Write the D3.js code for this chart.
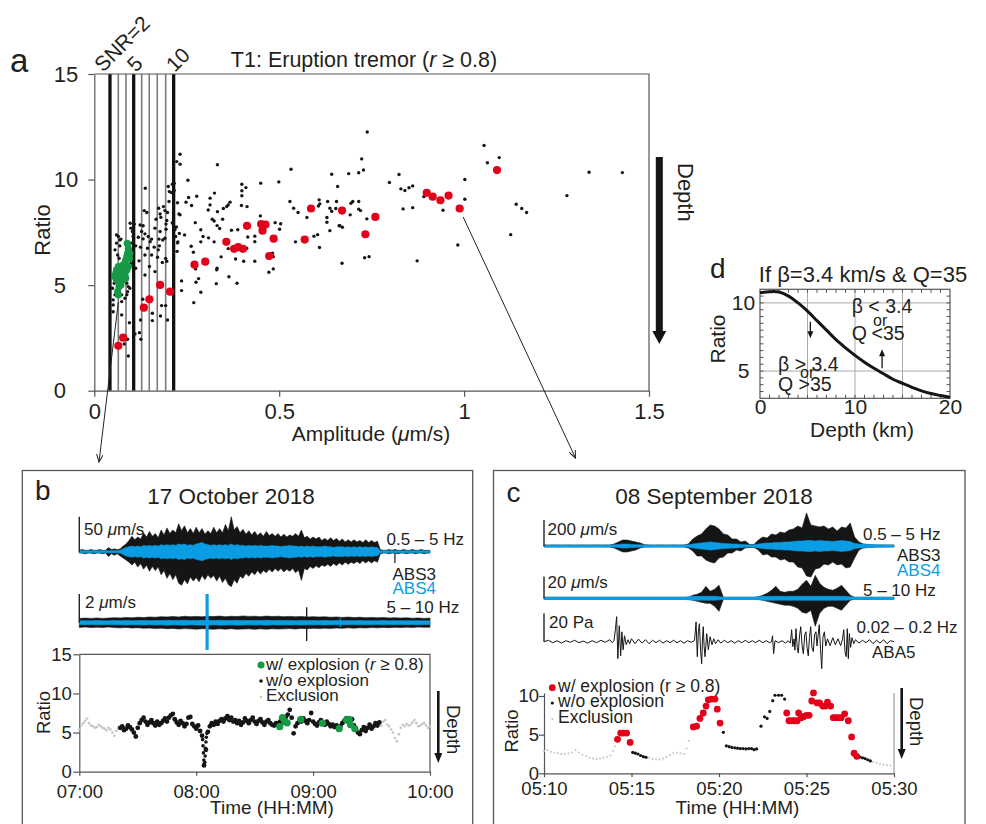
<!DOCTYPE html>
<html>
<head>
<meta charset="utf-8">
<script src="https://cdn.jsdelivr.net/npm/d3@7"></script>
<style>
  body { margin: 0; background: #fff; }
  svg { display: block; }
</style>
</head>
<body>
<svg id="fig" width="986" height="824"></svg>
<script>
// ---------------- panel a : amplitude ratio scatter ----------------
const aTicksX = [0, 0.5, 1, 1.5];
const aTicksY = [0, 5, 10, 15];
const snrLevels = [2, 3, 4, 5, 6, 7, 8, 9, 10];
const snrAmp = [0.0424, 0.0649, 0.0857, 0.1065, 0.1281, 0.1486, 0.1703, 0.1930, 0.2146];
const snrLabels = ["SNR=2", "5", "10"];
const snrLabelLevel = [2, 5, 10];

const aBlack = [
  [0.232,11.2],[0.232,10.73],[0.333,10.7],[0.253,9.97],[0.532,10.49],[0.642,10.25],[0.658,9.67],[0.499,9.89],
  [0.45,9.83],[0.399,9.78],[0.399,9.47],[0.41,9.62],[0.399,9.23],[0.325,9.36],[0.313,9.12],[0.277,9.21],
  [0.255,9.15],[0.248,8.93],[0.263,8.77],[0.313,8.8],[0.367,8.93],[0.362,8.8],[0.358,8.72],[0.398,8.77],
  [0.413,8.72],[0.349,8.63],[0.308,8.56],[0.333,8.48],[0.232,8.33],[0.319,8.12],[0.324,8.04],[0.347,8.12],
  [0.273,7.96],[0.332,7.82],[0.339,7.68],[0.288,7.62],[0.371,7.6],[0.388,7.62],[0.449,8.28],[0.489,7.96],
  [0.504,7.91],[0.501,7.65],[0.244,7.38],[0.294,7.3],[0.309,7.24],[0.324,7.05],[0.288,7.05],[0.415,7.28],
  [0.434,7.32],[0.434,7.06],[0.262,6.84],[0.268,6.56],[0.362,6.73],[0.412,6.75],[0.343,6.34],[0.382,6.24],
  [0.404,6.13],[0.434,6.13],[0.482,6.51],[0.484,6.35],[0.274,5.77],[0.332,5.8],[0.331,5.73],[0.484,5.77],
  [0.472,5.61],[0.364,5.4],[0.282,5.31],[0.275,5.14],[0.236,5.2],[0.236,4.74],[0.33,5.07],[0.386,5.09],
  [0.288,4.66],[0.269,4.17],[0.529,8.96],[0.539,8.64],[0.551,8.44],[0.575,8.2],[0.608,9.04],[0.61,8.85],
  [0.606,8.75],[0.631,8.96],[0.655,8.96],[0.637,8.64],[0.642,8.5],[0.653,8.63],[0.629,8.2],[0.629,7.98],
  [0.637,7.58],[0.662,7.81],[0.594,7.32],[0.604,7.39],[0.544,7.05],[0.609,6.78],
  [0.738,12.25],[0.688,10.28],[0.715,10.32],[0.728,10.45],[0.723,10.98],[0.824,10.24],[0.798,9.86],[0.829,9.56],
  [0.84,9.48],[0.851,9.61],[0.861,9.7],[0.694,8.88],[0.699,8.96],[0.715,8.96],[0.715,8.6],[0.72,8.53],
  [0.692,8.33],[0.737,8.14],[0.664,7.81],[0.671,7.74],[0.835,8.61],[0.861,8.67],[0.891,9.19],[1.002,10.0],
  [1.002,9.07],[0.943,8.55],[0.983,6.9],[0.873,6.15],[0.731,6.3],[0.743,6.35],[0.67,6.04],[1.054,11.61],
  [1.063,10.8],[1.095,11.04],[1.141,8.83],[1.156,8.63],[1.169,8.44],[1.126,7.39],[1.278,9.24],[1.338,10.35],
  [1.428,10.33],
  [0.223,10.85],[0.138,9.59],[0.2,9.67],[0.211,9.78],[0.216,9.83],[0.203,9.43],[0.209,9.38],[0.216,9.48],
  [0.202,8.96],[0.174,8.64],[0.187,8.72],[0.191,8.53],[0.198,8.44],[0.135,8.53],[0.142,8.44],[0.214,8.48],
  [0.214,8.15],[0.178,8.37],[0.18,8.21],[0.196,8.06],[0.194,7.89],[0.167,8.12],[0.211,7.96],[0.218,7.62],
  [0.229,8.37],[0.097,7.93],[0.108,7.89],[0.124,7.85],[0.132,7.81],[0.099,7.7],[0.128,7.54],[0.137,7.43],
  [0.132,7.19],[0.119,7.27],[0.146,7.3],[0.155,7.18],[0.151,7.06],[0.164,7.7],[0.178,7.54],[0.191,7.22],
  [0.194,7.65],[0.175,7.18],[0.185,7.14],[0.176,6.86],[0.112,6.86],[0.125,6.8],[0.144,6.75],[0.162,6.8],
  [0.173,6.67],[0.137,6.43],[0.155,6.43],[0.171,6.32],[0.184,6.07],[0.193,6.26],[0.196,6.13],[0.215,6.59],
  [0.121,6.15],[0.149,5.88],[0.137,5.48],[0.112,5.8],[0.164,5.64],[0.182,4.03],[0.193,4.03],[0.157,3.67],
  [0.157,3.32],[0.179,3.54],[0.198,3.35],[0.131,4.33],[0.125,3.35],[0.122,2.75],[0.126,2.44],[0.11,2.69],
  [0.065,7.3],[0.072,7.18],[0.06,6.99],[0.069,6.86],[0.056,6.67],[0.063,6.43],[0.067,6.27],[0.099,6.99],
  [0.101,6.67],[0.092,6.35],[0.099,6.04],[0.105,5.88],[0.051,5.4],[0.054,5.09],[0.049,4.85],[0.088,5.09],
  [0.092,4.93],[0.096,4.85],[0.09,4.69],[0.056,4.54],[0.065,4.46],[0.074,4.54],[0.088,4.54],[0.083,4.38],
  [0.051,4.3],[0.051,4.06],[0.051,3.74],[0.074,4.22],[0.074,3.59],[0.095,3.22],[0.09,2.44],[0.092,1.64],
  [0.081,2.21],[0.06,7.38],[0.069,7.14],[0.103,7.54],[0.105,7.3],[0.225,8.9],[0.222,7.75],[0.22,7.3],
  [0.224,6.6],[0.226,7.05],[0.213,7.9],[0.23,7.45],[0.225,7.0]
];
const aRed = [
  [0.413,7.81],[0.451,7.89],[0.463,7.87],[0.455,7.58],[0.485,7.2],[0.357,7.05],[0.378,6.72],[0.389,6.8],
  [0.402,6.72],[0.473,6.38],[0.3,6.11],[0.271,5.97],[0.586,8.63],[0.569,7.16],[0.67,8.53],[0.76,8.23],
  [0.733,7.41],[0.899,9.37],[0.915,9.19],[0.936,9.02],[0.958,9.24],[0.988,8.63],[1.089,10.45],[0.178,5.01],
  [0.205,4.69],[0.149,4.33],[0.134,3.93],[0.078,2.51],[0.065,2.13]
];
const aGreen = [
  [0.089,6.98],[0.092,6.75],[0.09,6.51],[0.088,6.35],[0.085,6.19],[0.083,6.04],[0.078,5.96],[0.074,5.88],
  [0.069,5.8],[0.065,5.88],[0.06,5.72],[0.058,5.56],[0.056,5.4],[0.06,5.25],[0.065,5.17],[0.069,5.4],
  [0.074,5.56],[0.078,5.64],[0.083,5.48],[0.088,5.72],[0.092,5.88],[0.067,4.93],[0.063,4.69],[0.065,4.54],
  [0.072,5.01],[0.078,5.25],[0.085,5.33],[0.095,6.27],[0.096,6.51]
];

// ---------------- panel b : 17 October 2018 ----------------
const bTimeTicks = [0, 60, 120, 180];          // minutes after 07:00
const bTimeLabels = ["07:00", "08:00", "09:00", "10:00"];
const bRatioTicks = [0, 5, 10, 15];
// 0.5-5 Hz envelopes (um/s), one value every 1.5 min from 07:00
const b1Up = [2,3,2,2,3,2,2,3,2,2, 6,3,4,3,4, 8,11,16,22,17, 21,18,27,21,29, 22,26,20,31,24,
  34,26,31,27,40, 30,37,27,33,26, 35,27,33,25,30, 26,35,27,33,27, 39,30,50,31,36, 27,32,25,30,24,
  29,23,27,22,29, 23,26,22,26,21, 25,21,24,22,26, 22,31,20,22,18, 21,18,21,16,19, 16,20,16,19,15,
  18,14,17,14,17, 14,16,13,17,13, 16,13,15,3,2, 2,3,2,3,2, 2,3,2,2,3, 2,2,3,2,2, 2];
const b1Down = [2,2,3,2,2,3,2,2,3,2, 7,3,5,3,6, 9,12,15,19,15, 22,17,25,19,28, 21,27,22,33,27,
  38,31,40,33,45, 48,40,46,36,42, 37,43,34,40,33, 38,34,42,35,44, 38,47,50,40,45, 35,38,31,35,29,
  33,27,32,27,30, 25,29,24,28,24, 29,25,28,24,30, 26,41,24,26,21, 24,20,23,19,21, 18,21,17,20,16,
  19,15,18,15,17, 14,17,13,16,13, 16,13,15,3,2, 2,3,2,2,3, 2,2,3,2,2, 3,2,2,3,2, 2];
const b1Blue = [1.5,1.5,1.5,1.5,1.5,1.5,1.5,1.5,1.5,1.5,1.5,1.5,1.5,1.5, 2,4,6,7,8,7,
  8,7,9,8,9, 8,9,8,10,9, 10,9,10,9,11, 10,11,9,10,9, 11,12,13,11,10, 9,10,9,10,9, 10,9,11,9,10,
  9,9,8,9,8, 9,8,9,8,8, 8,9,8,8,7, 8,8,9,8,8, 7,8,7,8,7, 8,7,7,7,8, 7,7,6,7,7, 7,6,7,6,7,
  6,7,6,7,6, 7,6,6,1.5,1.5, 1.5,1.5,1.5,1.5,1.5,1.5,1.5,1.5,1.5,1.5,1.5,1.5,1.5,1.5,1.5,1.5];
const b1SpikeT = [162], b1SpikeUp = [3], b1SpikeDown = [16];
// 5-10 Hz envelopes (um/s), one value every 3 min
const b2Up = [0.3,0.32,0.3,0.33,0.3,0.32,0.35,0.33,0.36,0.34,0.38,0.36,0.4,0.38,0.42,0.4,0.43,0.4,0.45,0.42,0.44,0.41,0.45,0.43,0.46,0.42,0.45,0.43,0.47,0.44,0.45,0.42,0.46,0.43,0.45,0.42,0.44,0.41,0.43,0.4,0.42,0.4,0.41,0.38,0.4,0.37,0.39,0.36,0.38,0.35,0.37,0.34,0.36,0.33,0.35,0.32,0.34,0.31,0.33,0.3,0.32];
const b2Down = [0.33,0.3,0.34,0.31,0.33,0.3,0.34,0.36,0.33,0.37,0.35,0.39,0.37,0.41,0.38,0.42,0.4,0.44,0.41,0.43,0.45,0.42,0.44,0.46,0.43,0.45,0.42,0.46,0.44,0.43,0.46,0.43,0.45,0.42,0.44,0.43,0.41,0.44,0.4,0.42,0.39,0.41,0.38,0.4,0.37,0.39,0.36,0.38,0.35,0.37,0.34,0.36,0.33,0.35,0.32,0.34,0.31,0.33,0.3,0.32,0.31];
const b2Blue = [0.13,0.14,0.13,0.15,0.14,0.13,0.15,0.14,0.16,0.14,0.15,0.16,0.14,0.16,0.15,0.17,0.15,0.16,0.17,0.15,0.16,0.17,0.16,0.15,0.17,0.16,0.15,0.17,0.16,0.15,0.16,0.15,0.17,0.15,0.16,0.15,0.16,0.14,0.16,0.15,0.15,0.14,0.16,0.14,0.15,0.14,0.15,0.13,0.15,0.14,0.14,0.13,0.15,0.13,0.14,0.13,0.14,0.13,0.14,0.13,0.13];
const b2SpikeT = [65.6, 116.7, 134, 162];
const b2SpikeUp = [2.0, 1.07, 0.3, 0.25];
const b2SpikeDown = [1.9, 1.28, 0.3, 0.3];
const b2SpikeBlue = [true, false, true, false];
// ratio time series, one value per minute
const bGrayStartA = 0;
const bGrayA = [5.4,5.9,6.2,6.5,6.8,6.2,5.9,5.8,5.6,5.7,6.0,5.8,5.6,5.5,5.3,5.6,5.4,5.0,4.6,5.2,5.5];
const bGrayStartB = 155;
const bGrayB = [5.9,6.4,6.6,6.0,5.8,5.4,5.0,4.3,3.9,4.8,5.6,6.0,5.8,6.1,5.9,6.0,6.3,6.6,6.2,5.8,5.9,6.1,6.2,5.9,5.6,5.8];
const bBlackStart = 21;
const bBlack = [5.6,5.8,5.3,5.5,5.9,5.7,5.4,5.0,4.5,5.6,6.2,6.6,6.9,6.4,6.0,6.3,6.6,6.2,5.9,6.4,
  6.0,6.2,6.5,6.8,6.4,6.9,7.2,7.4,6.7,6.3,6.0,6.5,6.2,5.8,6.1,6.9,7.0,6.1,5.8,5.5,
  5.9,5.2,4.6,0.8,2.8,5.1,5.8,6.2,6.0,6.4,6.1,6.5,6.7,6.4,6.8,7.1,6.6,6.9,6.4,6.6,
  6.2,6.5,6.0,6.3,6.8,6.5,6.2,6.6,6.9,6.4,6.1,6.5,6.7,6.3,6.0,6.4,6.6,6.2,6.0,5.9,
  6.2,6.0,6.4,6.2,6.6,7.0,7.3,7.9,6.9,4.9,5.8,6.2,6.6,6.4,6.8,6.5,6.2,6.6,7.5,6.4,
  6.1,5.9,6.3,6.6,6.2,6.0,6.4,6.1,5.8,6.0,5.7,5.9,5.5,5.8,6.2,6.5,6.8,6.4,6.1,6.7,
  5.9,5.4,5.0,4.8,5.3,5.7,5.2,5.6,6.0,5.5,5.8,6.2,5.9,6.3];
const bDip = [[63.3,4.1],[63.5,3.3],[63.7,2.4],[63.9,1.5],[64.1,0.9],[64.4,1.2],[64.6,2.0],[64.8,3.0],[65.0,3.8],[65.2,4.4],[65.5,4.9]];
const bGreen = [[102.9,5.75],[104.3,6.9],[105.5,6.4],[106.7,6.25],[113.7,6.7],[124.8,6.2],[133.4,5.5],[137.1,6.6],[138.5,6.7],[139.2,6.0],[141.4,5.5]];

// ---------------- panel c : 08 September 2018 ----------------
const cTimeTicks = [0, 5, 10, 15, 20];          // minutes after 05:10
const cTimeLabels = ["05:10", "05:15", "05:20", "05:25", "05:30"];
const cRatioTicks = [0, 5, 10];
// envelopes every 0.25 min from 05:10
const c1Up = [8,7,8,8,7,8,8,7,8,8,7,8,8,7,8,8, 15,31,46,46,38,31,23,10, 8,7,8,8,7,8,8,7,8,
  15,54,77,92,131,162,154,131,92,85,54,54,31,38,12,
  12,46,69,62,92,85,108,100,123,131,154,139,254,162,154,146,154,131,146,115,146,139,177,69,31,
  15,12,10,8,8,8,8,8];
const c1Down = [8,8,7,8,8,7,8,8,8,7,8,8,7,8,8,8, 15,31,46,46,38,31,15,8, 8,8,7,8,8,7,8,8,8,
  15,38,77,77,108,123,131,92,85,54,54,31,38,15,12,
  12,31,69,62,85,85,108,100,123,123,162,169,231,239,177,169,139,146,123,146,139,169,162,92,31,
  15,12,10,8,8,8,8,8];
const c1Blue = [8,8,8,8,8,8,8,8,8,8,8,8,8,8,8,8, 9,12,15,15,12,10,9,8, 8,8,8,8,8,8,8,8,8,
  9,15,20,23,27,31,27,23,20,18,15,15,12,10,8,
  9,15,20,23,23,27,27,31,31,35,38,38,42,42,38,42,38,38,35,38,42,38,35,20,15,
  15,12,12,10,9,8,8,8];
const c2Up = [0.9,0.9,0.9,0.9,0.9,0.9,0.9,0.9,0.9,0.9,0.9,0.9,0.9,0.9,0.9,0.9,0.9,0.9,0.9,0.9,0.9,0.9,0.9,0.9,0.9,0.9,0.9,0.9,0.9,0.9,0.9,0.9,0.9,
  0.9,2.8,3.7,5.5,11,6.4,8.3,12,
  0.9,0.9,0.9,0.9,0.9,0.9,0.9,0.9,
  1.4,2.8,4.6,7.4,11,6.4,5.5,6.4,6.4,8.3,12.9,16.6,11,21.2,13.8,10.1,8.3,7.4,9.2,12,7.4,2.8,
  0.9,0.9,0.9,0.9,0.9,0.9,0.9,0.9,0.9,0.9];
const c2Down = [0.9,0.9,0.9,0.9,0.9,0.9,0.9,0.9,0.9,0.9,0.9,0.9,0.9,0.9,0.9,0.9,0.9,0.9,0.9,0.9,0.9,0.9,0.9,0.9,0.9,0.9,0.9,0.9,0.9,0.9,0.9,0.9,0.9,
  0.9,1.8,2.8,3.7,4.6,4.6,7.4,12,
  0.9,0.9,0.9,0.9,0.9,0.9,0.9,0.9,
  0.9,1.8,2.8,3.7,4.6,5.5,6.4,6.4,7.4,9.2,12.9,13.8,11,25.8,13.8,9.2,7.4,7.4,9.2,11,6.4,1.8,
  0.9,0.9,0.9,0.9,0.9,0.9,0.9,0.9,0.9,0.9];
const c2Blue = [1.1,1.1,1.1,1.1,1.1,1.1,1.1,1.1,1.1,1.1,1.1,1.1,1.1,1.1,1.1,1.1,1.1,1.1,1.1,1.1,1.1,1.1,1.1,1.1,1.1,1.1,1.1,1.1,1.1,1.1,1.1,1.1,1.1,
  1.4,1.8,1.8,1.8,1.8,1.8,1.8,1.4,
  1.1,1.1,1.1,1.1,1.1,1.1,1.1,1.1,
  1.4,1.8,1.8,1.8,1.8,1.8,1.8,1.8,1.8,1.8,1.8,1.8,1.8,1.8,1.8,1.8,1.8,1.8,1.8,1.8,1.8,1.4,
  1.1,1.1,1.1,1.1,1.1,1.1,1.1,1.1,1.1,1.1];
// infrasound ABA5, [minute, Pa]
const c3 = [[0,0],[0.25,1],[0.5,-0.7],[0.75,0.7],[1.0,-1],[1.25,0.7],[1.5,-0.4],[1.75,1],[2.0,-0.7],[2.25,0.4],[2.5,-1],
  [2.75,0.7],[3.0,-0.7],[3.25,1],[3.5,-0.4],[3.75,1.4],[3.9,-0.7],[4.0,0.7],[4.08,8.5],[4.15,17.7],[4.22,-12],[4.3,11.3],
  [4.38,-9.9],[4.45,7],[4.52,-5.7],[4.6,4.2],[4.7,-2.1],[4.8,1.4],[4.9,-1.4],[5.0,2.1],[5.2,-1.4],[5.4,1.8],[5.6,-1],
  [5.8,1.4],[6.0,-1.4],[6.2,1],[6.4,-0.7],[6.6,1],[6.8,-1],[7.0,0.7],[7.2,-0.7],[7.4,1],[7.6,-0.7],[7.8,0.7],[8.0,-1],
  [8.2,0.7],[8.4,-0.4],[8.6,0.7],[8.69,14],[8.76,-10.6],[8.82,7],[8.88,12.7],[8.95,-7],[9.01,-15.6],[9.06,3.5],[9.1,10.6],
  [9.15,-3.5],[9.2,-10.6],[9.3,5.7],[9.39,-5.7],[9.49,3.5],[9.6,-2.1],[9.7,2.1],[9.8,-1.4],[9.95,1.4],[10.1,-1],[10.3,1],
  [10.5,-0.7],[10.7,0.7],[10.9,-1],[11.1,0.7],[11.3,-0.7],[11.5,1],[11.7,-0.7],[11.9,0.7],[12.1,-0.7],[12.3,1],[12.5,-0.7],
  [12.7,0.7],[12.9,-0.7],[13.0,0],[13.06,4.2],[13.12,-8.5],[13.2,0.7],[13.4,-0.7],[13.6,0.7],[13.8,-1],[13.95,0.7],
  [14.08,-1],[14.15,8.5],[14.22,-3.5],[14.29,2],[14.34,-6],[14.4,9.2],[14.47,-4],[14.53,-8],[14.6,4],[14.67,10.6],
  [14.75,-3],[14.82,-8.5],[14.9,5],[14.97,7],[15.03,-4],[15.1,-10],[15.17,3],[15.24,10.6],[15.31,-4],[15.39,-7],
  [15.46,5],[15.54,7],[15.6,-3],[15.66,4],[15.73,12],[15.8,-5],[15.87,-19],[15.94,3],[16.02,7],[16.1,-3],[16.2,2],
  [16.35,-2.8],[16.5,2.8],[16.65,-2.1],[16.8,2.1],[16.95,-2.8],[17.05,1.4],[17.13,8.5],[17.2,-7],[17.27,-10.6],
  [17.33,9.2],[17.39,-12],[17.45,5.7],[17.52,-4],[17.6,2.8],[17.7,-1.4],[17.8,1.4],[18.0,-1],[18.2,1],[18.4,-0.7],
  [18.6,1.4],[18.8,-1.4],[19.0,1],[19.2,-1],[19.4,1.4],[19.6,-1.4],[19.8,0.7],[20.0,0]];
const cGray = [[0,2.9],[0.2,3.0],[0.4,2.8],[0.6,2.7],[0.8,2.6],[1.0,2.5],[1.2,2.5],[1.4,2.6],[1.6,2.7],[1.8,3.0],
  [2.0,2.7],[2.2,2.4],[2.4,2.2],[2.6,2.0],[2.8,1.9],[3.0,1.85],[3.2,1.9],[3.4,2.0],[3.6,2.1],[3.8,2.3],[3.95,2.9],
  [4.05,3.5],[6.0,2.0],[6.2,1.85],[6.4,1.8],[6.6,1.8],[6.8,1.9],[7.0,2.1],[7.2,2.4],[7.4,2.6],[7.6,2.7],[7.8,2.6],
  [8.0,2.5],[8.15,3.2],[8.28,4.2],[18.8,1.5],[19.0,1.35],[19.2,1.2],[19.4,1.1],[19.6,1.05],[19.8,1.0],[20.0,1.0]];
const cBlack = [[5.07,2.7],[5.22,2.6],[5.37,2.5],[5.52,2.3],[5.68,2.15],[5.83,2.07],
  [10.25,5.3],[10.42,3.55],[10.58,3.45],[10.74,3.35],[10.9,3.3],[11.06,3.25],[11.22,3.2],[11.38,3.2],[11.54,3.15],
  [11.7,3.2],[11.86,3.2],[12.0,3.05],[12.15,3.15],
  [12.4,6.1],[12.6,7.3],[12.75,7.1],[12.9,8.0],[13.07,9.4],[13.2,10.1],[13.4,10.1],[13.58,10.1],[13.75,9.6],
  [18.05,2.1],[18.2,2.0],[18.35,1.9],[18.5,1.75],[18.65,1.6]];
const cRed = [[4.2,4.4],[4.38,5.2],[4.53,5.2],[4.72,5.2],[4.92,4.0],
  [8.53,6.0],[8.72,6.1],[8.91,7.1],[9.1,7.8],[9.26,8.7],[9.39,9.5],[9.58,9.6],[9.77,9.6],[9.9,8.3],[10.06,6.5],
  [13.87,7.8],[14.0,6.8],[14.15,6.8],[14.3,6.8],[14.47,6.8],[14.55,7.8],[14.7,7.2],[14.85,7.35],[15.0,7.5],[15.15,7.5],
  [15.3,9.35],[15.4,10.4],[15.6,9.1],[15.75,9.1],[15.93,8.7],[16.08,8.7],[16.2,9.2],[16.38,8.7],[16.53,7.2],[16.68,7.2],
  [16.83,7.2],[16.98,7.2],[17.18,7.7],[17.39,6.8],[17.58,4.7],[17.72,2.6],[17.87,2.2]];

// ---------------- panel d : model curve ----------------
const dDepth = [0,1,2,3,4,5,6,7,8,9,10,11,12,13,14,15,16,17,18,19,20];
const dRatio = [10.75,10.82,10.8,10.5,10.0,9.4,8.7,8.0,7.3,6.7,6.15,5.65,5.2,4.8,4.4,4.1,3.8,3.55,3.35,3.2,3.07];
const dTicksX = [0, 10, 20];
const dTicksY = [5, 10];
const dGridX = [5, 10, 15];
const dGridY = [5, 10];

// ------------------------------------------------------------
const FONT = '"Liberation Sans", Arial, Helvetica, sans-serif';
const TXT = "#231f20", AX = "#555", INK = "#151515";
const RED = "#e2001a", GREEN = "#179a45", BLUE = "#0a9de4", GRAY = "#c4c4c4";

const svg = d3.select("#fig").attr("font-family", FONT);

svg.append("defs").append("marker")
  .attr("id", "tip").attr("markerUnits", "userSpaceOnUse")
  .attr("markerWidth", 9).attr("markerHeight", 7).attr("refX", 8).attr("refY", 3.5)
  .attr("orient", "auto")
  .append("path").attr("d", "M0,0L8,3.5L0,7").attr("fill", "none").attr("stroke", "#222").attr("stroke-width", 1);

function label(g, x, y, parts, size, opt = {}) {
  const t = g.append("text").attr("x", x).attr("y", y).attr("font-size", size)
    .attr("fill", opt.fill || TXT).attr("text-anchor", opt.anchor || "start");
  if (opt.rot) t.attr("transform", `rotate(${opt.rot},${x},${y})`);
  (typeof parts === "string" ? [[parts]] : parts).forEach(p => {
    t.append("tspan").text(p[0]).attr("font-style", p[1] ? "italic" : null);
  });
  return t;
}

function styleAxis(g, size) {
  g.attr("font-family", FONT).attr("font-size", size);
  g.select(".domain").attr("stroke", AX).attr("stroke-width", 1.2);
  g.selectAll(".tick line").attr("stroke", AX).attr("stroke-width", 1.2);
  g.selectAll(".tick text").attr("fill", TXT);
}

function depthArrow(g, x, y0, y1, shaft, head, headLen, size, tx, ty) {
  g.append("path")
    .attr("d", `M${x - shaft / 2},${y0}H${x + shaft / 2}V${y1 - headLen}H${x + head / 2}L${x},${y1}L${x - head / 2},${y1 - headLen}H${x - shaft / 2}Z`)
    .attr("fill", INK);
  label(g, tx, ty, "Depth", size, { rot: 90 });
}

// envelope of a waveform drawn through an amplitude scale tied to the scale bar
function envelope(g, xs, times, ys, up, down, color) {
  const area = d3.area().x(d => xs(d)).y1((d, i) => ys(up[i])).y0((d, i) => ys(-down[i]));
  g.append("path").attr("d", area(times)).attr("fill", color).attr("stroke", color).attr("stroke-width", 0.6);
}

function scaleBar(g, x, ys, val, text, tx, ty) {
  g.append("line").attr("x1", x).attr("x2", x).attr("y1", ys(0)).attr("y2", ys(val))
    .attr("stroke", "#222").attr("stroke-width", 1.4);
  label(g, tx, ty, text, 17);
}

// ================= panel a =================
const gA = svg.append("g");
const xA = d3.scaleLinear().domain([0, 1.5]).range([94.3, 649]);
const yA = d3.scaleLinear().domain([0, 15]).range([390.7, 74]);

gA.selectAll("line.snr").data(snrLevels).join("line")
  .attr("x1", (d, i) => xA(snrAmp[i])).attr("x2", (d, i) => xA(snrAmp[i]))
  .attr("y1", yA(15)).attr("y2", yA(0))
  .attr("stroke", d => snrLabelLevel.includes(d) ? "#111" : "#7a7a7a")
  .attr("stroke-width", d => snrLabelLevel.includes(d) ? 3.3 : 1.6);

gA.append("path").attr("d", `M${xA(0)},${yA(15)}H${xA(1.5)}V${yA(0)}`)
  .attr("fill", "none").attr("stroke", AX).attr("stroke-width", 1.2);

const axAx = gA.append("g").attr("transform", `translate(0,${yA(0)})`)
  .call(d3.axisBottom(xA).tickValues(aTicksX).tickFormat(d3.format("~g")).tickSize(6).tickSizeOuter(0));
styleAxis(axAx, 22);
axAx.selectAll(".tick text").attr("y", 12.5);

const axAy = gA.append("g").attr("transform", `translate(${xA(0)},0)`)
  .call(d3.axisLeft(yA).tickValues(aTicksY).tickSize(6).tickSizeOuter(0));
styleAxis(axAy, 22);
axAy.selectAll(".tick text").attr("text-anchor", "start").attr("x", -40.5);

gA.selectAll("circle.blk").data(aBlack).join("circle")
  .attr("cx", d => xA(d[0])).attr("cy", d => yA(d[1])).attr("r", 1.7).attr("fill", INK);
gA.selectAll("circle.red").data(aRed).join("circle")
  .attr("cx", d => xA(d[0])).attr("cy", d => yA(d[1])).attr("r", 4.1).attr("fill", RED);
gA.selectAll("circle.grn").data(aGreen).join("circle")
  .attr("cx", d => xA(d[0])).attr("cy", d => yA(d[1])).attr("r", 3.6).attr("fill", GREEN);

// SNR labels
const snrDx = [-7, 2, 1];
snrLabels.forEach((s, i) => {
  const k = snrLevels.indexOf(snrLabelLevel[i]);
  label(gA, xA(snrAmp[k]) + snrDx[i], 73, s, 21, { rot: -45 });
});

label(gA, 10, 72, "a", 33);
label(gA, 364, 66.5, [["T1: Eruption tremor ("], ["r", true], [" ≥ 0.8)"]], 21.5, { anchor: "middle" });
label(gA, 49.5, 230, "Ratio", 22, { rot: -90, anchor: "middle" });
label(gA, 371, 441, [["Amplitude ("], ["μ", true], ["m/s)"]], 21, { anchor: "middle" });
depthArrow(gA, 659.3, 157, 344, 7, 14, 13, 22, 678, 163);

// connectors to panels b and c
gA.append("line").attr("x1", xA(0.065)).attr("y1", yA(4.2)).attr("x2", 99).attr("y2", 462)
  .attr("stroke", "#222").attr("stroke-width", 1).attr("marker-end", "url(#tip)");
gA.append("line").attr("x1", xA(0.988) + 3.5).attr("y1", yA(8.63) + 8.5).attr("x2", 575.5).attr("y2", 458)
  .attr("stroke", "#222").attr("stroke-width", 1).attr("marker-end", "url(#tip)");

// ================= panel d =================
const gD = svg.append("g");
const xD = d3.scaleLinear().domain([0, 20]).range([760, 950]);
const yD = d3.scaleLinear().domain([3, 11]).range([398.3, 289.3]);

gD.selectAll("line.gx").data(dGridX).join("line")
  .attr("x1", d => xD(d)).attr("x2", d => xD(d)).attr("y1", yD(11)).attr("y2", yD(3))
  .attr("stroke", "#aaa").attr("stroke-width", 1);
gD.selectAll("line.gy").data(dGridY).join("line")
  .attr("x1", xD(0)).attr("x2", xD(20)).attr("y1", d => yD(d)).attr("y2", d => yD(d))
  .attr("stroke", "#aaa").attr("stroke-width", 1);
// inner minor ticks
const dMinorX = d3.range(1, 20);
const dMinorY = d3.range(3.5, 11, 0.5);
gD.selectAll("line.mxb").data(dMinorX).join("line")
  .attr("x1", d => xD(d)).attr("x2", d => xD(d)).attr("y1", yD(3)).attr("y2", yD(3) - 3.5)
  .attr("stroke", AX).attr("stroke-width", 1);
gD.selectAll("line.mxt").data(dMinorX).join("line")
  .attr("x1", d => xD(d)).attr("x2", d => xD(d)).attr("y1", yD(11)).attr("y2", yD(11) + 3.5)
  .attr("stroke", AX).attr("stroke-width", 1);
gD.selectAll("line.myl").data(dMinorY).join("line")
  .attr("x1", xD(0)).attr("x2", xD(0) + 3.5).attr("y1", d => yD(d)).attr("y2", d => yD(d))
  .attr("stroke", AX).attr("stroke-width", 1);
gD.selectAll("line.myr").data(dMinorY).join("line")
  .attr("x1", xD(20)).attr("x2", xD(20) - 3.5).attr("y1", d => yD(d)).attr("y2", d => yD(d))
  .attr("stroke", AX).attr("stroke-width", 1);
gD.append("rect").attr("x", xD(0)).attr("y", yD(11)).attr("width", xD(20) - xD(0)).attr("height", yD(3) - yD(11))
  .attr("fill", "none").attr("stroke", AX).attr("stroke-width", 1.2);

gD.append("path").datum(dDepth)
  .attr("d", d3.line().x(d => xD(d)).y((d, i) => yD(dRatio[i])).curve(d3.curveCatmullRom))
  .attr("fill", "none").attr("stroke", INK).attr("stroke-width", 3);

const axDx = gD.append("g").attr("transform", `translate(0,${yD(3)})`)
  .call(d3.axisBottom(xD).tickValues(dTicksX).tickSize(0).tickSizeOuter(0));
styleAxis(axDx, 21);
axDx.select(".domain").remove();
axDx.selectAll(".tick text").attr("y", 1);
const axDy = gD.append("g").attr("transform", `translate(${xD(0)},0)`)
  .call(d3.axisLeft(yD).tickValues(dTicksY).tickSize(0).tickSizeOuter(0));
styleAxis(axDy, 21);
axDy.select(".domain").remove();
axDy.selectAll(".tick text").attr("text-anchor", "middle").attr("x", -16.5);

// small arrows
function smallArrow(g, x, y0, y1) {
  const s = Math.sign(y1 - y0);
  g.append("line").attr("x1", x).attr("x2", x).attr("y1", y0).attr("y2", y1 - s * 6)
    .attr("stroke", INK).attr("stroke-width", 1.3);
  g.append("path").attr("d", `M${x - 3},${y1 - s * 7}L${x + 3},${y1 - s * 7}L${x},${y1}Z`).attr("fill", INK);
}
smallArrow(gD, xD(5.3), yD(8.62), yD(7.4));
smallArrow(gD, xD(12.85), yD(5.2), yD(6.6));

label(gD, 710, 278, "d", 28);
label(gD, 863, 281.5, "If β=3.4 km/s & Q=35", 22, { anchor: "middle" });
label(gD, 724.5, 339, "Ratio", 21, { rot: -90, anchor: "middle" });
label(gD, 862, 437, "Depth (km)", 21, { anchor: "middle" });
label(gD, 851.7, 313.3, "β < 3.4", 19.5);
label(gD, 873, 326, "or", 16);
label(gD, 851.7, 339.8, "Q", 19.5);
label(gD, 871.5, 339.8, "<", 19.5);
label(gD, 883, 339.8, "35", 19.5);
label(gD, 778, 370.7, "β > 3.4", 19.5);
label(gD, 800, 377.5, "or", 16);
label(gD, 778, 390.5, "Q", 19.5);
label(gD, 798.5, 390.5, ">", 19.5);
label(gD, 810, 390.5, "35", 19.5);

// ================= panel b =================
const gB = svg.append("g");
gB.append("rect").attr("x", 22.3).attr("y", 470.5).attr("width", 450.4).attr("height", 380)
  .attr("fill", "none").attr("stroke", AX).attr("stroke-width", 1.3);
label(gB, 35, 499.5, "b", 28);
label(gB, 231, 504, "17 October 2018", 22.5, { anchor: "middle" });

const xB = d3.scaleLinear().domain([0, 180]).range([79.3, 430]);
const bWaveT1 = d3.range(0, 180.01, 1.5);
const bWaveT2 = d3.range(0, 181, 3);

const yB1 = d3.scaleLinear().domain([-50, 50]).range([551.7 + 35, 551.7 - 35]);
envelope(gB, xB, bWaveT1, yB1, b1Up, b1Down, INK);
b1SpikeT.forEach((t, i) => gB.append("line").attr("x1", xB(t)).attr("x2", xB(t))
  .attr("y1", yB1(b1SpikeUp[i])).attr("y2", yB1(-b1SpikeDown[i])).attr("stroke", INK).attr("stroke-width", 1.2));
envelope(gB, xB, bWaveT1, yB1, b1Blue, b1Blue, BLUE);
scaleBar(gB, xB(0), yB1, 50, [["50 "], ["μ", true], ["m/s"]], 84, 535);

const yB2 = d3.scaleLinear().domain([-2, 2]).range([622.7 + 28.7, 622.7 - 28.7]);
envelope(gB, xB, bWaveT2, yB2, b2Up, b2Down, INK);
b2SpikeT.forEach((t, i) => { if (!b2SpikeBlue[i]) gB.append("line").attr("x1", xB(t)).attr("x2", xB(t))
  .attr("y1", yB2(b2SpikeUp[i])).attr("y2", yB2(-b2SpikeDown[i])).attr("stroke", INK).attr("stroke-width", 1.3); });
envelope(gB, xB, bWaveT2, yB2, b2Blue, b2Blue, BLUE);
b2SpikeT.forEach((t, i) => { if (b2SpikeBlue[i]) gB.append("line").attr("x1", xB(t)).attr("x2", xB(t))
  .attr("y1", yB2(b2SpikeUp[i])).attr("y2", yB2(-b2SpikeDown[i])).attr("stroke", BLUE).attr("stroke-width", i === 0 ? 3.2 : 1.3); });
scaleBar(gB, xB(0), yB2, 2, [["2 "], ["μ", true], ["m/s"]], 85, 607.5);

label(gB, 386.5, 545, "0.5 – 5 Hz", 17);
label(gB, 392.5, 580, "ABS3", 17);
label(gB, 392.5, 594, "ABS4", 17, { fill: BLUE });
label(gB, 386.5, 612.7, "5 – 10 Hz", 17);

const yB = d3.scaleLinear().domain([0, 15]).range([771.7, 654.3]);
gB.append("path").attr("d", `M${xB(0)},${yB(15)}H${xB(180)}V${yB(0)}`)
  .attr("fill", "none").attr("stroke", AX).attr("stroke-width", 1.2);
const axBx = gB.append("g").attr("transform", `translate(0,${yB(0)})`)
  .call(d3.axisBottom(xB).tickValues(bTimeTicks).tickFormat((d, i) => bTimeLabels[i]).tickSize(4).tickSizeOuter(0));
styleAxis(axBx, 18.5);
axBx.selectAll(".tick text").attr("y", 13.3);
const axBy = gB.append("g").attr("transform", `translate(${xB(0)},0)`)
  .call(d3.axisLeft(yB).tickValues(bRatioTicks).tickSize(6).tickSizeOuter(0));
styleAxis(axBy, 18.5);
axBy.selectAll(".tick text").attr("x", -7.5);

gB.selectAll("circle.g1").data(bGrayA).join("circle")
  .attr("cx", (d, i) => xB(bGrayStartA + i)).attr("cy", d => yB(d)).attr("r", 1.3).attr("fill", GRAY);
gB.selectAll("circle.g2").data(bGrayB).join("circle")
  .attr("cx", (d, i) => xB(bGrayStartB + i)).attr("cy", d => yB(d)).attr("r", 1.3).attr("fill", GRAY);
gB.selectAll("circle.bk").data(bBlack).join("circle")
  .attr("cx", (d, i) => xB(bBlackStart + i)).attr("cy", d => yB(d)).attr("r", 2.4).attr("fill", INK);
gB.selectAll("circle.dip").data(bDip).join("circle")
  .attr("cx", d => xB(d[0])).attr("cy", d => yB(d[1])).attr("r", 1.8).attr("fill", INK);
gB.selectAll("circle.gr").data(bGreen).join("circle")
  .attr("cx", d => xB(d[0])).attr("cy", d => yB(d[1])).attr("r", 3.6).attr("fill", GREEN);

gB.append("circle").attr("cx", 261).attr("cy", 665).attr("r", 3.5).attr("fill", GREEN);
gB.append("circle").attr("cx", 261).attr("cy", 681).attr("r", 1.8).attr("fill", INK);
gB.append("circle").attr("cx", 261).attr("cy", 697).attr("r", 1.2).attr("fill", GRAY);
label(gB, 266, 670, [["w/ explosion ("], ["r", true], [" ≥ 0.8)"]], 17);
label(gB, 266, 685.5, "w/o explosion", 17);
label(gB, 266, 701, "Exclusion", 17);

label(gB, 49.5, 712.5, "Ratio", 18.5, { rot: -90, anchor: "middle" });
label(gB, 272, 813.5, "Time (HH:MM)", 19, { anchor: "middle" });
depthArrow(gB, 438.3, 691, 763, 2.6, 8, 10, 18.5, 447, 705);

// ================= panel c =================
const gC = svg.append("g");
gC.append("rect").attr("x", 493.5).attr("y", 470.5).attr("width", 471.5).attr("height", 380)
  .attr("fill", "none").attr("stroke", AX).attr("stroke-width", 1.3);
label(gC, 506.5, 501.5, "c", 28);
label(gC, 714, 503.5, "08 September 2018", 22.5, { anchor: "middle" });

const xC = d3.scaleLinear().domain([0, 20]).range([544, 894]);
const cWaveT = d3.range(0, 20.001, 0.25);

const yC1 = d3.scaleLinear().domain([-200, 200]).range([546 + 26, 546 - 26]);
envelope(gC, xC, cWaveT, yC1, c1Up, c1Down, INK);
envelope(gC, xC, cWaveT, yC1, c1Blue, c1Blue, BLUE);
scaleBar(gC, xC(0), yC1, 200, [["200 "], ["μ", true], ["m/s"]], 547.5, 535);

const yC2 = d3.scaleLinear().domain([-20, 20]).range([598.3 + 21.7, 598.3 - 21.7]);
envelope(gC, xC, cWaveT, yC2, c2Up, c2Down, INK);
envelope(gC, xC, cWaveT, yC2, c2Blue, c2Blue, BLUE);
scaleBar(gC, xC(0), yC2, 20, [["20 "], ["μ", true], ["m/s"]], 547.5, 588);

const yC3 = d3.scaleLinear().domain([-20, 20]).range([641.7 + 28.3, 641.7 - 28.3]);
gC.append("path").datum(c3)
  .attr("d", d3.line().x(d => xC(d[0])).y(d => yC3(d[1])))
  .attr("fill", "none").attr("stroke", INK).attr("stroke-width", 1);
scaleBar(gC, xC(0), yC3, 20, "20 Pa", 549, 628.3);

label(gC, 863, 540, "0.5 – 5 Hz", 17);
label(gC, 897, 560.7, "ABS3", 17);
label(gC, 897, 576, "ABS4", 17, { fill: BLUE });
label(gC, 863, 596, "5 – 10 Hz", 17);
label(gC, 856.5, 633, "0.02 – 0.2 Hz", 17);
label(gC, 872, 658, "ABA5", 17);

const yC = d3.scaleLinear().domain([0, 10.4]).range([773.3, 773.3 - 10.4 * 7.73]);
gC.append("line").attr("x1", xC(20)).attr("x2", xC(20)).attr("y1", yC(10.4)).attr("y2", yC(0))
  .attr("stroke", "#999").attr("stroke-width", 1.2);
const axCx = gC.append("g").attr("transform", `translate(0,${yC(0)})`)
  .call(d3.axisBottom(xC).tickValues(cTimeTicks).tickFormat((d, i) => cTimeLabels[i]).tickSize(4).tickSizeOuter(0));
styleAxis(axCx, 18.5);
axCx.selectAll(".tick text").attr("y", 9);
const axCy = gC.append("g").attr("transform", `translate(${xC(0)},0)`)
  .call(d3.axisLeft(yC).tickValues(cRatioTicks).tickSize(5).tickSizeOuter(0));
styleAxis(axCy, 18.5);
axCy.selectAll(".tick text").attr("x", -5);

gC.selectAll("circle.gy").data(cGray).join("circle")
  .attr("cx", d => xC(d[0])).attr("cy", d => yC(d[1])).attr("r", 1).attr("fill", GRAY);
gC.selectAll("circle.bk").data(cBlack).join("circle")
  .attr("cx", d => xC(d[0])).attr("cy", d => yC(d[1])).attr("r", 1.6).attr("fill", INK);
gC.selectAll("circle.rd").data(cRed).join("circle")
  .attr("cx", d => xC(d[0])).attr("cy", d => yC(d[1])).attr("r", 3.4).attr("fill", RED);

gC.append("circle").attr("cx", 552.3).attr("cy", 687.7).attr("r", 3.4).attr("fill", RED);
gC.append("circle").attr("cx", 552.3).attr("cy", 703).attr("r", 1.6).attr("fill", INK);
gC.append("circle").attr("cx", 552.3).attr("cy", 719).attr("r", 1).attr("fill", GRAY);
label(gC, 558, 692, "w/ explosion (r ≥ 0.8)", 17.5);
label(gC, 558, 707, "w/o explosion", 17.5);
label(gC, 558, 722.5, "Exclusion", 17.5);

label(gC, 518, 731, "Ratio", 18.5, { rot: -90, anchor: "middle" });
label(gC, 737.5, 813.5, "Time (HH:MM)", 19, { anchor: "middle" });
depthArrow(gC, 901.7, 688, 759, 2.6, 8, 10, 18.5, 910, 697);
</script>
</body>
</html>
